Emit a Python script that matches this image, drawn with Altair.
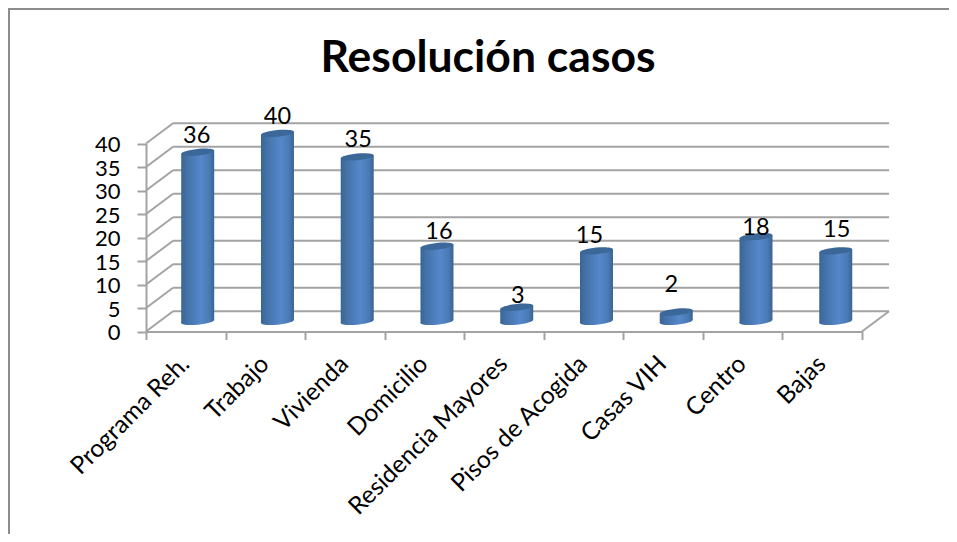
import altair as alt
import pandas as pd

categories = ["Programa Reh.", "Trabajo", "Vivienda", "Domicilio", "Residencia Mayores",
              "Pisos de Acogida", "Casas VIH", "Centro", "Bajas"]
values = [36, 40, 35, 16, 3, 15, 2, 18, 15]
y_ticks = [0, 5, 10, 15, 20, 25, 30, 35, 40]
slot_edges = [0, 1, 2, 3, 4, 5, 6, 7, 8, 9]
# hand nudges of the value labels, in pixels (right, up from the default spot)
label_nudge_x = [-1, 0, 1, 2, 1, -7, -5, 0, 1]
label_nudge_y = [16, 16, 17, 14, 11, 15, 27, 9, 21]

FONT = "Lato"
GRID = "#a3a3a3"
DX, DY = 0.34, 4.3      # depth of the 3D box, in axis units
HALF_W = 0.2074         # half a cylinder width, x units
TILT = 0.35             # rise of the cylinder rim, y units
PX_X, PX_Y = 79.55, 4.7

x_scale = alt.Scale(domain=[0, 9], range=[138, 854], nice=False, zero=False)
y_scale = alt.Scale(domain=[0, 40], range=[323.5, 135.5], nice=False, zero=False)
x_axis = alt.Axis(values=slot_edges, labels=False, grid=False, tickSize=8, tickWidth=2, tickColor=GRID,
                  domainColor=GRID, domainWidth=2, orient="bottom", offset=-202.5, title=None)
y_axis = alt.Axis(values=y_ticks, grid=False, tickSize=9, tickWidth=2, tickColor=GRID,
                  domainColor=GRID, domainWidth=2, orient="left", offset=-138, title=None,
                  labelFont=FONT, labelFontSize=22, labelColor="black", labelPadding=17, labelOffset=1)
X = lambda f: alt.X(f, type="quantitative", scale=x_scale, axis=x_axis)
Y = lambda f: alt.Y(f, type="quantitative", scale=y_scale, axis=y_axis)

# Box
back = pd.DataFrame({"x": [DX] * 9, "x2": [9 + DX] * 9, "y": [t + DY for t in y_ticks]})
side = pd.DataFrame({"x": [0] * 9, "x2": [DX] * 9, "y": y_ticks, "y2": [t + DY for t in y_ticks]})
floor = pd.DataFrame({"x": [9], "x2": [9 + DX], "y": [0], "y2": [DY]})

rule = alt.Chart(back).mark_rule(color=GRID, strokeWidth=2).encode(
    x=X("x"), x2="x2", y=Y("y"))
side_rule = alt.Chart(pd.concat([side, floor])).mark_rule(color=GRID, strokeWidth=2).encode(
    x=X("x"), x2="x2", y=Y("y"), y2="y2")

# Cylinders
centers = [0.65 + i * 1.0025 for i in range(len(values))]
body_rows = []
for c, v, n in zip(centers, values, categories):
    base = DY / 2
    body_rows.append({"cat": n, "x": c - HALF_W, "top": base + v - TILT, "base": base - TILT})
    body_rows.append({"cat": n, "x": c + HALF_W, "top": base + v + TILT, "base": base + TILT})
bodies = pd.DataFrame(body_rows)
tops = pd.DataFrame({"cat": categories, "x": centers, "y": [DY / 2 + v for v in values]})
bases = pd.DataFrame({"cat": categories, "x": centers, "y": [DY / 2] * 9})

side_fill = alt.LinearGradient(gradient="linear", x1=0, x2=1, y1=0, y2=0, stops=[
    alt.GradientStop(offset=0, color="#3a6596"),
    alt.GradientStop(offset=0.2, color="#4573aa"),
    alt.GradientStop(offset=0.6, color="#5588ca"),
    alt.GradientStop(offset=0.85, color="#4a7ab5"),
    alt.GradientStop(offset=1, color="#396391"),
])
ELLIPSE = "M-1,0.1A1,0.2,-5.7,1,1,1,-0.1A1,0.2,-5.7,1,1,-1,0.1Z"

base_marks = alt.Chart(bases).mark_point(shape=ELLIPSE, size=1089, filled=True, fill=side_fill,
                                         opacity=1, strokeWidth=0).encode(x=X("x"), y=Y("y"))
body_marks = alt.Chart(bodies).mark_area(fill=side_fill, orient="vertical", opacity=1).encode(
    x=X("x"), y=Y("top"), y2="base", detail="cat:N")
top_marks = alt.Chart(tops).mark_point(shape=ELLIPSE, size=1089, filled=True, fill="#3b6899",
                                       opacity=1, strokeWidth=0).encode(x=X("x"), y=Y("y"))

# Text
vlabels = pd.DataFrame({
    "x": [c + n / PX_X for c, n in zip(centers, label_nudge_x)],
    "y": [DY / 2 + v + n / PX_Y for v, n in zip(values, label_nudge_y)],
    "t": [str(v) for v in values],
})
value_text = alt.Chart(vlabels).mark_text(font=FONT, fontSize=23.5, color="black", baseline="middle").encode(
    x=X("x"), y=Y("y"), text="t:N")

clabels = pd.DataFrame({"x": [i + 0.5 for i in range(9)], "y": [-6.2] * 9, "t": categories})
cat_text = alt.Chart(clabels).mark_text(font=FONT, fontSize=24.5, color="black", align="right",
                                        baseline="middle", angle=315).encode(
    x=X("x"), y=Y("y"), text="t:N")

# Frame
frame_left = alt.Chart(pd.DataFrame({"a": [0]})).mark_rule(color="#8c8c8c", strokeWidth=2).encode(
    x=alt.value(1), y=alt.value(0), y2=alt.value(526))
frame_top = alt.Chart(pd.DataFrame({"a": [0]})).mark_rule(color="#8c8c8c", strokeWidth=2).encode(
    y=alt.value(1), x=alt.value(0), x2=alt.value(941))

chart = alt.layer(
    frame_left, frame_top, rule, side_rule, base_marks, body_marks, top_marks, value_text, cat_text
).properties(
    width=941, height=526, padding=0,
    autosize=alt.AutoSizeParams(type="none"),
    background="white",
    title=alt.TitleParams("Resolución casos", font=FONT, fontSize=44.5, fontWeight="bold", color="black",
                          anchor="middle", frame="group", dx=9.5, dy=78),
).configure_view(stroke=None)

chart.save("out.html", embed_options={"renderer": "svg", "actions": False})
